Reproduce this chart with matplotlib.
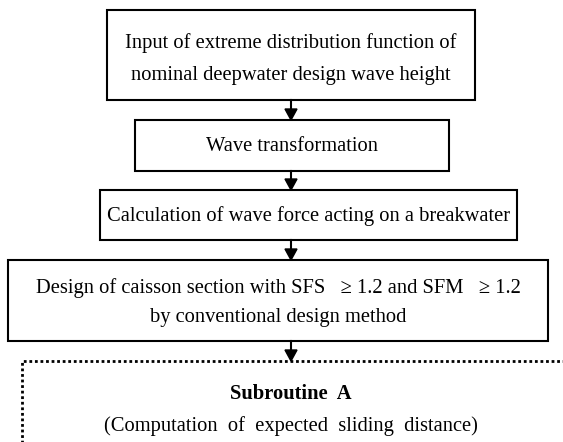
import matplotlib.pyplot as plt
from matplotlib.patches import Rectangle, Polygon

# flowchart text
box_texts = [
    "Input of extreme distribution function of\nnominal deepwater design wave height",
    "Wave transformation",
    "Calculation of wave force acting on a breakwater",
    "Design of caisson section with SFS   \u2265 1.2 and SFM   \u2265 1.2\nby conventional design method",
]
sub_title = "Subroutine  A"
sub_text = "(Computation  of  expected  sliding  distance)"

# box geometry in pixels (left, right, top, bottom), y goes down
box_x = [(107, 475), (135, 449), (100, 517), (8, 548)]
box_y = [(10, 100), (120, 171), (190, 240), (260, 341)]
text_dy = [4, 1, 1, 2]
line_sp = [1.9, 1.2, 1.2, 1.75]
arrow_x = 291
dot_top = 361

plt.rcParams['font.family'] = ['Liberation Serif', 'DejaVu Serif']

fig = plt.figure(figsize=(5.63, 4.42), dpi=100)
ax = fig.add_axes([0, 0, 1, 1])
ax.set_xlim(0, 563)
ax.set_ylim(442, 0)
ax.axis('off')

for (x0, x1), (y0, y1), txt, ls, dy in zip(box_x, box_y, box_texts, line_sp, text_dy):
    ax.add_patch(Rectangle((x0, y0), x1 - x0, y1 - y0, fill=False,
                           lw=1.5, ec='black'))
    ax.text((x0 + x1) / 2, (y0 + y1) / 2 + dy, txt, ha='center', va='center',
            fontsize=14.8, linespacing=ls)

# arrows between boxes
ends = [b[0] for b in box_y[1:]] + [dot_top]
starts = [b[1] for b in box_y]
for y0, y1 in zip(starts, ends):
    ax.plot([arrow_x, arrow_x], [y0, y1 - 9], color='black', lw=1.5)
    ax.add_patch(Polygon([(arrow_x - 6, y1 - 11), (arrow_x + 6, y1 - 11),
                          (arrow_x, y1)], closed=True, color='black'))

# dotted subroutine box (runs off the page)
ax.plot([22, 22, 570], [450, dot_top, dot_top], color='black', lw=2,
        linestyle=(0, (1, 1)))
ax.text(291, 394, sub_title, ha='center', va='center', fontsize=14.8,
        fontweight='bold')
ax.text(291, 426, sub_text, ha='center', va='center', fontsize=14.8)

fig.savefig('out.png', dpi=100)
